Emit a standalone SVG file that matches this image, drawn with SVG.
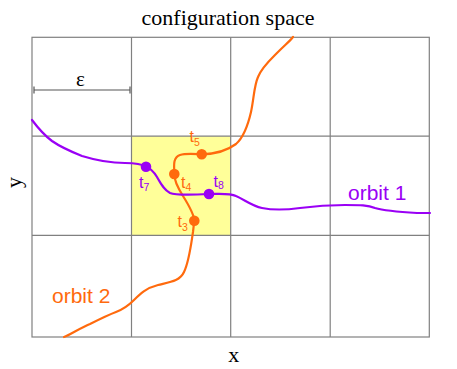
<svg xmlns="http://www.w3.org/2000/svg" width="457" height="369" viewBox="0 0 457 369">
<style>
.grid{stroke:#808080;stroke-width:1.2;fill:none}
.serif{font-family:"Liberation Serif","DejaVu Serif",serif;fill:#000}
.sans{font-family:"Liberation Sans",Arial,sans-serif}
.or{fill:#ff6a0d}
.pu{fill:#9a00f5}
.orS{stroke:#ff6a0d;stroke-width:2.2;fill:none;stroke-linecap:round;stroke-linejoin:round}
.puS{stroke:#9a00f5;stroke-width:2.2;fill:none;stroke-linecap:round;stroke-linejoin:round}
.t{font-size:16px}
.sub{font-size:10.5px}
.lbl{font-size:21px}
</style>
<rect width="457" height="369" fill="#fff"/>
<text class="serif" x="228" y="25" font-size="22" text-anchor="middle">configuration space</text>
<g id="cell-highlight">
<rect x="131.5" y="136.2" width="99.2" height="99.1" fill="#ffff99"/>
</g>
<g id="grid">
<rect class="grid" x="32" y="37.3" width="397.3" height="299.7"/>
<line class="grid" x1="131.5" y1="37.3" x2="131.5" y2="337"/>
<line class="grid" x1="230.7" y1="37.3" x2="230.7" y2="337"/>
<line class="grid" x1="330.2" y1="37.3" x2="330.2" y2="337"/>
<line class="grid" x1="32" y1="136.2" x2="429.3" y2="136.2"/>
<line class="grid" x1="32" y1="235.3" x2="429.3" y2="235.3"/>
</g>
<g id="epsilon">
<path d="M34,90H130M34,86.5V93.5M130,86.5V93.5" stroke="#555" stroke-width="1.2" fill="none"/>
<text class="serif" x="80.5" y="86" font-size="21" text-anchor="middle">ε</text>
</g>
<text class="serif" x="233.8" y="361.5" font-size="22" text-anchor="middle">x</text>
<text class="serif" transform="translate(21,182.5) rotate(-90)" font-size="22" text-anchor="middle">y</text>
<g id="connectors">
<path id="orbit2-path" class="orS" d="M64,337 C70,335 80,328 90,324 C100,319 108,315 116,312 C124,309 128,306 134,300 C140,294 146,288 158,285 C170,282 180,281 184,272 C189,262 191,245 193,232 L194.3,220.7 C194,214 188,204 183,196 C178,188 174,181 174.3,174 C174.5,167 172,158 180,155 C186,153 195,154 201.7,154.3 C215,154 228,150 236,144 C244,137 248,125 251,112 C254,98 254,86 258,77 C262,67 270,60 278,52 C285,45 290,41 293,37"/>
<path id="orbit1-path" class="puS" d="M32,120 C38,128 44,135 52,141 C62,148 72,152 82,156 C95,160 110,163 125,163 C135,163 142,164 146,166.7 C150,168 154,172 157,177 C161,184 164,190 170,193 C176,195.5 190,195 209,194 C220,194 230,193 236,196 C245,200 252,206 262,208 C272,210 285,210 300,208 C315,206 330,205 345,205 C360,205 368,205 375,208 C385,211 400,212 417,213 L430,213"/>
</g>
<g id="t3"><circle class="or" cx="194.3" cy="220.7" r="5.3"/><text class="sans or t" x="177.5" y="227">t<tspan class="sub" dy="3.5">3</tspan></text></g>
<g id="t4"><circle class="or" cx="174.3" cy="174" r="5.3"/><text class="sans or t" x="181" y="188">t<tspan class="sub" dy="3">4</tspan></text></g>
<g id="t5"><circle class="or" cx="201.7" cy="154.3" r="5.3"/><text class="sans or t" x="189.5" y="142">t<tspan class="sub" dy="3.5">5</tspan></text></g>
<g id="t7"><circle class="pu" cx="146" cy="166.7" r="5.3"/><text class="sans pu t" x="139" y="188">t<tspan class="sub" dy="3">7</tspan></text></g>
<g id="t8"><circle class="pu" cx="209" cy="194" r="5.3"/><text class="sans pu t" x="213.5" y="186.5">t<tspan class="sub" dy="2">8</tspan></text></g>
<g id="orbit1"><text class="sans pu lbl" x="348" y="200">orbit 1</text></g>
<g id="orbit2"><text class="sans or lbl" x="52" y="303">orbit 2</text></g>
</svg>
